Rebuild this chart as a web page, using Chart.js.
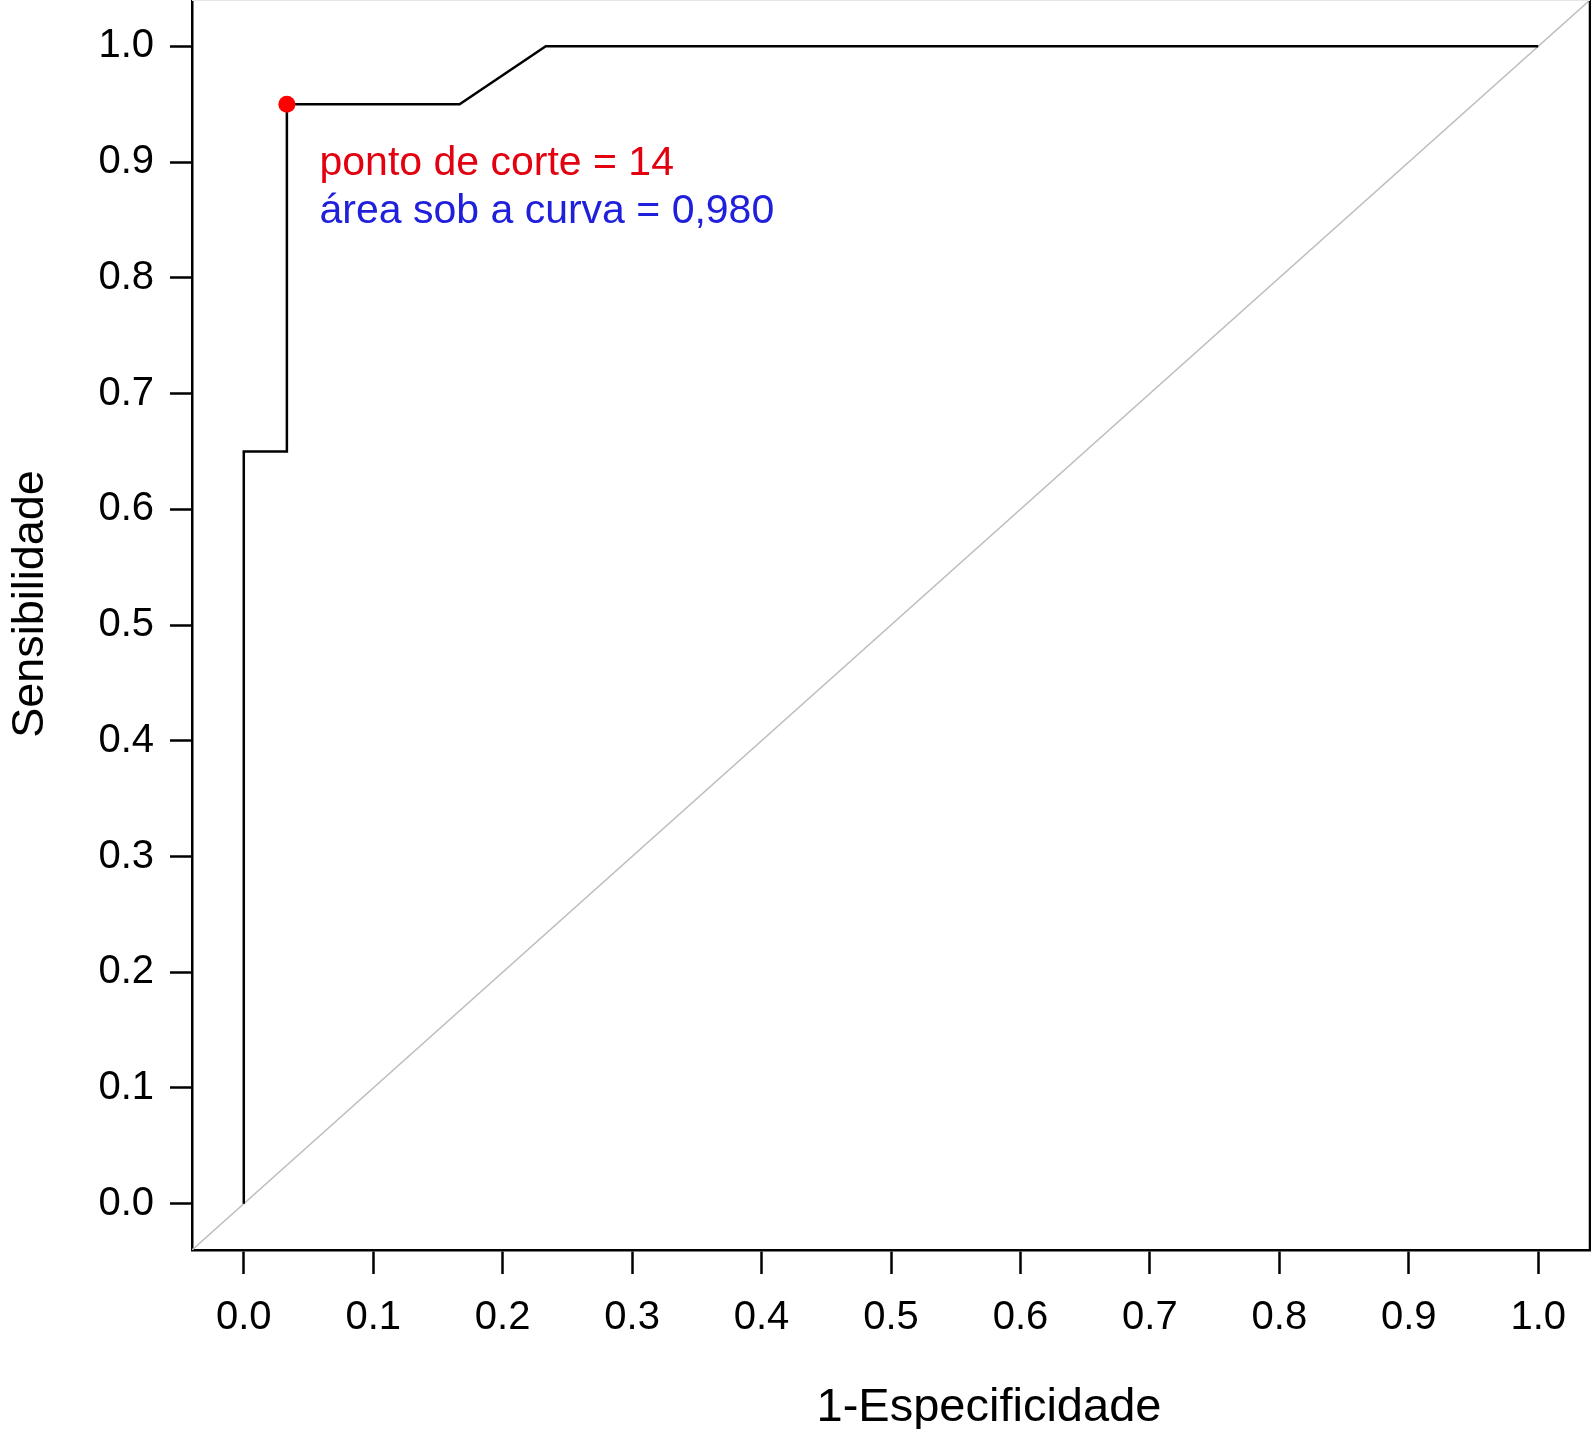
<!DOCTYPE html>
<html>
<head>
<meta charset="utf-8">
<script src="https://cdn.jsdelivr.net/npm/chart.js@4.4.1/dist/chart.umd.min.js"></script>
<style>
  html, body { margin: 0; padding: 0; background: #fff; }
  canvas { display: block; }
</style>
</head>
<body>
<canvas id="roc" width="1591" height="1429"></canvas>
<script>
// ===================================
// ROC curve - sensibilidade x 1-especificidade
// ===================================

// ROC curve points
const rocFpr  = [0.0, 0.0, 0.0333, 0.0333, 0.1667, 0.2333, 1.0];
const rocSens = [0.0, 0.65, 0.65, 0.95, 0.95, 1.0, 1.0];

// chance line (goes corner to corner of the plot box)
const refFpr  = [-0.04, 1.04];
const refSens = [-0.04, 1.04];

// optimal cut-off point
const cutFpr  = [0.0333];
const cutSens = [0.95];

// tick labels (same on both axes)
const tickValues = [0.0, 0.1, 0.2, 0.3, 0.4, 0.5, 0.6, 0.7, 0.8, 0.9, 1.0];

const xTitle = '1-Especificidade';
const yTitle = 'Sensibilidade';
const noteCut = 'ponto de corte = 14';
const noteAuc = 'área sob a curva = 0,980';

const FONT = '"Liberation Sans", Arial, Helvetica, sans-serif';

function toPoints(xs, ys) {
  return xs.map((x, i) => ({ x: x, y: ys[i] }));
}

// box border (top / right) + notes + axis titles
const extrasPlugin = {
  id: 'extras',
  afterDatasetsDraw(chart) {
    const ctx = chart.ctx;
    const area = chart.chartArea;
    const xs = chart.scales.x;
    const ys = chart.scales.y;
    ctx.save();

    // right side of the box
    ctx.strokeStyle = '#000';
    ctx.lineWidth = 2.5;
    ctx.beginPath();
    ctx.moveTo(area.right, area.top);
    ctx.lineTo(area.right, area.bottom);
    ctx.stroke();
    // top side is cropped in the original, only a faint edge is left
    ctx.strokeStyle = '#e6e6e6';
    ctx.lineWidth = 1;
    ctx.beginPath();
    ctx.moveTo(area.left, area.top + 0.5);
    ctx.lineTo(area.right, area.top + 0.5);
    ctx.stroke();

    // notes
    ctx.font = '41px ' + FONT;
    ctx.textAlign = 'left';
    ctx.textBaseline = 'alphabetic';
    ctx.fillStyle = '#e3000f';
    ctx.fillText(noteCut, xs.getPixelForValue(0.0585), ys.getPixelForValue(0.889));
    ctx.fillStyle = '#2020dc';
    ctx.fillText(noteAuc, xs.getPixelForValue(0.0585), ys.getPixelForValue(0.847));

    // axis titles
    ctx.fillStyle = '#000';
    ctx.textAlign = 'center';
    ctx.font = '47px ' + FONT;
    ctx.fillText(xTitle, 989, 1421);
    ctx.translate(43, 604);
    ctx.rotate(-Math.PI / 2);
    ctx.font = '45px ' + FONT;
    ctx.fillText(yTitle, 0, 0);
    ctx.restore();
  }
};

function axisOptions(position, tickLen, pad) {
  return {
    type: 'linear',
    position: position,
    min: -0.04,
    max: 1.04,
    afterBuildTicks(scale) {
      scale.ticks = tickValues.map(v => ({ value: v }));
    },
    afterFit(scale) {
      if (position === 'left') {
        scale.width = 192;
      } else {
        scale.height = 179;
      }
      scale.paddingTop = 0;
      scale.paddingBottom = 0;
      scale.paddingLeft = 0;
      scale.paddingRight = 0;
    },
    grid: {
      drawOnChartArea: false,
      drawTicks: true,
      tickLength: tickLen,
      tickWidth: 2.5,
      tickColor: '#000'
    },
    border: { display: true, color: '#000', width: 2.5 },
    ticks: {
      autoSkip: false,
      maxRotation: 0,
      padding: pad,
      color: '#000',
      font: { family: FONT, size: 40, lineHeight: 1.2 },
      callback: v => v.toFixed(1)
    }
  };
}

new Chart(document.getElementById('roc'), {
  type: 'scatter',
  data: {
    datasets: [
      {
        label: 'ponto de corte',
        data: toPoints(cutFpr, cutSens),
        showLine: false,
        pointRadius: 8.5,
        pointBackgroundColor: '#f00',
        pointBorderColor: '#f00',
        pointBorderWidth: 0
      },
      {
        label: 'ROC',
        data: toPoints(rocFpr, rocSens),
        showLine: true,
        borderColor: '#000',
        borderWidth: 2.5,
        pointRadius: 0,
        tension: 0,
        fill: false
      },
      {
        label: 'referência',
        data: toPoints(refFpr, refSens),
        showLine: true,
        borderColor: '#bebebe',
        borderWidth: 1.5,
        pointRadius: 0,
        fill: false
      }
    ]
  },
  options: {
    responsive: false,
    animation: false,
    devicePixelRatio: 1,
    layout: { autoPadding: false, padding: { top: 0, left: 0, bottom: 0, right: 1 } },
    plugins: {
      legend: { display: false },
      tooltip: { enabled: false }
    },
    scales: {
      x: axisOptions('bottom', 24, 20),
      y: axisOptions('left', 22, 16)
    }
  },
  plugins: [extrasPlugin]
});
</script>
</body>
</html>
